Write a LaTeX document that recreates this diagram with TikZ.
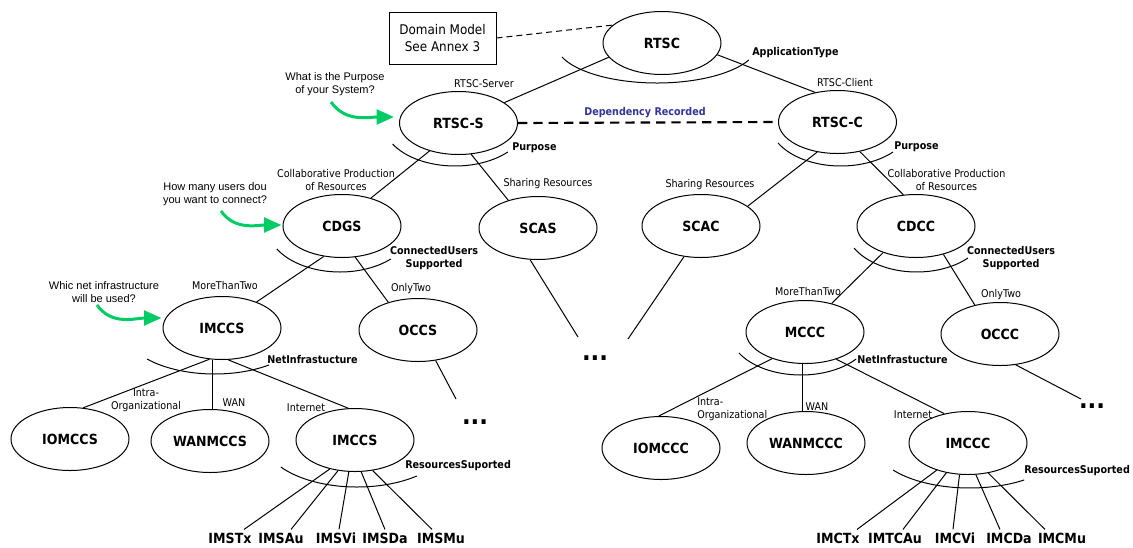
\documentclass[tikz,border=0pt]{standalone}
\usepackage{fontspec}
\setmainfont{DejaVu Sans}[FakeStretch=0.9]
\newfontfamily\qfont{Liberation Sans}
\usetikzlibrary{shapes.geometric,arrows.meta}

\definecolor{qgreen}{RGB}{0,204,102}
\definecolor{depblue}{RGB}{51,51,153}

% arc drawn under a concept: centre x, centre y, x radius (pt), y radius (pt), start, end
\newcommand\ringarc[6]{\draw[dimarc] (#1,#2) ++(#5:#3pt and #4pt)
  arc[start angle=#5, end angle=#6, x radius=#3pt, y radius=#4pt];}

\tikzset{
  concept/.style={ellipse, draw, line width=0.75pt, minimum width=88.5pt,
    minimum height=47.25pt, inner sep=0pt, font=\fontsize{10.5}{12}\selectfont\bfseries},
  leaf/.style={inner sep=0pt, font=\fontsize{10.5}{12}\selectfont\bfseries},
  edgetext/.style={inner sep=0pt, font=\fontsize{8}{9.75}\selectfont, align=center},
  dimtext/.style={inner sep=0pt, font=\fontsize{8}{9.4}\selectfont\bfseries, align=center},
  question/.style={inner sep=0pt, font=\qfont\fontsize{8.25}{9.6}\selectfont, align=center},
  link/.style={line width=0.75pt},
  dimarc/.style={line width=0.75pt},
  qarrow/.style={qgreen, line width=2.25pt, -{Triangle[length=13pt,width=11pt]}},
  dots/.style={inner sep=0pt, font=\fontsize{19}{19}\selectfont\bfseries},
}

\begin{document}
\begin{tikzpicture}[x=0.75pt,y=0.75pt]
\useasboundingbox (0,0) rectangle (1133,-547);

% concepts
\node[concept] (rtsc)    at (662,-43)   {RTSC};
\node[concept] (rtscs)   at (458.5,-123) {RTSC-S};
\node[concept] (rtscc)   at (837.5,-122) {RTSC-C};
\node[concept] (cdgs)    at (342,-226)  {CDGS};
\node[concept] (scas)    at (538,-228)  {SCAS};
\node[concept] (scac)    at (701,-226)  {SCAC};
\node[concept] (cdcc)    at (916,-226)  {CDCC};
\node[concept] (imccs)   at (222,-328)  {IMCCS};
\node[concept] (occs)    at (418,-330)  {OCCS};
\node[concept] (mccc)    at (805,-332)  {MCCC};
\node[concept] (occc)    at (1000,-334) {OCCC};
\node[concept] (iomccs)  at (70,-439)   {IOMCCS};
\node[concept] (wanmccs) at (210,-441)  {WANMCCS};
\node[concept] (imccsb)  at (355,-440)  {IMCCS};
\node[concept] (iomccc)  at (661,-448)  {IOMCCC};
\node[concept] (wanmccc) at (806,-443)  {WANMCCC};
\node[concept] (imcccb)  at (968,-443)  {IMCCC};

% resource leaves
\node[leaf] (imstx)  at (230,-538)  {IMSTx};
\node[leaf] (imsau)  at (281,-538)  {IMSAu};
\node[leaf] (imsvi)  at (336,-538)  {IMSVi};
\node[leaf] (imsda)  at (385,-538)  {IMSDa};
\node[leaf] (imsmu)  at (441,-538)  {IMSMu};
\node[leaf] (imctx)  at (838,-538)  {IMCTx};
\node[leaf] (imtcau) at (895,-538)  {IMTCAu};
\node[leaf] (imcvi)  at (955,-538)  {IMCVi};
\node[leaf] (imcda)  at (1009,-538) {IMCDa};
\node[leaf] (imcmu)  at (1062,-538) {IMCMu};

% elided branches
\node[dots] (dotsmid) at (595,-358)  {...};
\node[dots] (dotsl)   at (475,-422)  {...};
\node[dots] (dotsr)   at (1092,-406) {...};
\coordinate (occsend) at (456,-399);
\coordinate (scasend) at (578,-337);
\coordinate (scacend) at (628,-339);
\coordinate (occcend) at (1081,-399);

% domain model note
\node[draw, line width=0.75pt, minimum width=80.25pt, minimum height=39pt, align=center,
  inner sep=0pt, font=\fontsize{10}{12.75}\selectfont] (domain) at (442.5,-38)
  {Domain Model\\See Annex 3};
\draw[link, dash pattern=on 4.5pt off 3pt] (domain.east) -- (rtsc.160);

% dimension arcs
\ringarc{657}{-43}{76.1}{30}{200.5}{334.8}
\ringarc{455}{-123}{53.6}{32.25}{209.2}{317.6}
\ringarc{840.8}{-122}{53.55}{33}{208.5}{317}
\ringarc{340}{-226}{54.7}{34.5}{210}{314.2}
\ringarc{916.7}{-226}{53.55}{34.5}{208.6}{315.9}
\ringarc{214.6}{-328}{68.6}{34.5}{222.4}{306.5}
\ringarc{800.9}{-332}{53.2}{32.25}{209.2}{321.1}
\ringarc{357}{-440}{69.75}{35.25}{215}{310}
\ringarc{969.6}{-443}{71.8}{33.75}{216.9}{304.7}

% dimension names
\node[dimtext, anchor=west] (dapp)  at (752,-53)  {ApplicationType};
\node[dimtext, anchor=west] (dpurs) at (512,-148) {Purpose};
\node[dimtext, anchor=west] (dpurc) at (894,-147) {Purpose};
\node[dimtext] (dusers) at (434,-258)  {ConnectedUsers\\Supported};
\node[dimtext] (duserc) at (1011,-258) {ConnectedUsers\\Supported};
\node[dimtext, anchor=west] (dnets) at (267,-360)  {NetInfrastucture};
\node[dimtext, anchor=west] (dnetc) at (857,-360)  {NetInfrastucture};
\node[dimtext, anchor=west] (dress) at (405,-466)  {ResourcesSuported};
\node[dimtext, anchor=west] (dresc) at (1024,-471) {ResourcesSuported};
\node[dimtext, text=depblue] (dep) at (645,-113) {Dependency Recorded};

% alternative names
\node[edgetext] (lserver)  at (484,-84)   {RTSC-Server};
\node[edgetext] (lclient)  at (845,-83)   {RTSC-Client};
\node[edgetext] (lcollabs) at (336,-180)  {Collaborative Production\\of Resources};
\node[edgetext] (lshares)  at (548,-184)  {Sharing Resources};
\node[edgetext] (lsharec)  at (710,-185)  {Sharing Resources};
\node[edgetext] (lcollabc) at (946.5,-180) {Collaborative Production\\of Resources};
\node[edgetext] (lmores)   at (225,-286)  {MoreThanTwo};
\node[edgetext] (ltwos)    at (411,-289)  {OnlyTwo};
\node[edgetext] (lmorec)   at (808,-292)  {MoreThanTwo};
\node[edgetext] (ltwoc)    at (1001,-295) {OnlyTwo};
\node[edgetext] (lintras)  at (146,-400)  {Intra-\\Organizational};
\node[edgetext] (lwans)    at (234,-403)  {WAN};
\node[edgetext] (lnets)    at (306,-408)  {Internet};
\node[edgetext, align=left, anchor=west] (lintrac) at (697,-409) {Intra-\\Organizational};
\node[edgetext] (lwanc)    at (817,-407)  {WAN};
\node[edgetext] (lnetc)    at (913,-415)  {Internet};

% guiding questions
\node[question] (q1) at (335,-84)  {What is the Purpose\\of your System?};
\node[question] (q2) at (215,-194) {How many users dou\\you want to connect?};
\node[question] (q3) at (104,-292) {Whic net infrastructure\\will be used?};
\coordinate (qa1) at (331,-102);
\coordinate (qa2) at (221,-211);
\coordinate (qa3) at (97,-305);
\draw[qarrow] (qa1) to[out=-55,in=180] ([shift={(-5,6)}]rtscs.west);
\draw[qarrow] (qa2) to[out=-55,in=180] ([shift={(-1,1)}]cdgs.west);
\draw[qarrow] (qa3) to[out=-55,in=180] ([shift={(-1,10)}]imccs.west);

% dependency between server and client
\draw[line width=1.6pt, dash pattern=on 7pt off 4.5pt] (rtscs.east) -- (rtscc.west);

% tree connectors
\draw[link] (rtsc.-165) -- (rtscs.24);
\draw[link] (rtsc.-12) -- (rtscc.127);
\draw[link] (rtscs.-136) -- (cdgs.44);
\draw[link] (rtscs.-68) -- (scas.137);
\draw[link] (rtscc.-124) -- (scac.23);
\draw[link] (rtscc.-53) -- (cdcc.112);
\draw[link] (cdgs.-121) -- (imccs.37);
\draw[link] (cdgs.-67) -- (occs.137);
\draw[link] (cdcc.-141) -- (mccc.47);
\draw[link] (cdcc.-46) -- (occc.131);
\draw[link] (imccs.-112) -- (iomccs.67);
\draw[link] (imccs.-106) -- (imccs.-106 |- wanmccs.north);
\draw[link] (imccs.-79) -- (imccsb.102);
\draw[link] (mccc.-141) -- (iomccc.94);
\draw[link] (mccc.-94) -- (mccc.-94 |- wanmccc.north);
\draw[link] (mccc.-41) -- (imcccb.129);
\draw[link] (occs.-60) -- (occsend);
\draw[link] (scas.-104) -- (scasend);
\draw[link] (scac.-119) -- (scacend);
\draw[link] (occc.-63) -- (occcend);

% resource connectors
\draw[link] (imccsb.-131) -- ([shift={(14,3)}]imstx.north);
\draw[link] (imccsb.-119) -- ([shift={(10,3)}]imsau.north);
\draw[link] (imccsb.-101) -- ([shift={(3,3)}]imsvi.north);
\draw[link] (imccsb.-79)  -- ([shift={(0,3)}]imsda.north);
\draw[link] (imccsb.-60)  -- ([shift={(-9,3)}]imsmu.north);
\draw[link] (imcccb.-139) -- ([shift={(19,3)}]imctx.north);
\draw[link] (imcccb.-126) -- ([shift={(8,3)}]imtcau.north);
\draw[link] (imcccb.-105) -- ([shift={(-2,3)}]imcvi.north);
\draw[link] (imcccb.-76)  -- ([shift={(-9,3)}]imcda.north);
\draw[link] (imcccb.-56)  -- ([shift={(-17,3)}]imcmu.north);
\end{tikzpicture}
\end{document}
